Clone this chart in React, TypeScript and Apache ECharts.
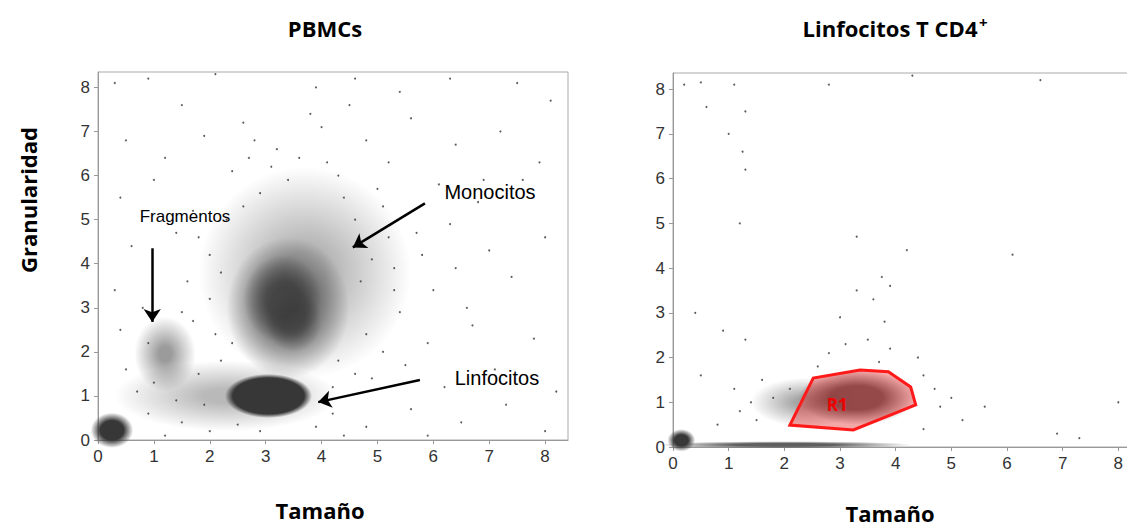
import { useEffect, useRef } from 'react';
import * as echarts from 'echarts';

// dense populations as [cx, cy, rx, ry, opacity, hardness]
const leftBlobs = [
  [2.3, 1.0, 2.0, 0.8, 0.35, 0.2],
  [3.7, 3.8, 1.9, 2.4, 0.4, 0.2],
  [3.4, 3.0, 1.1, 1.6, 0.75, 0.3],
  [3.3, 3.2, 0.7, 1.0, 0.6, 0.4],
  [3.5, 2.7, 0.5, 0.7, 0.5, 0.4],
  [1.2, 1.95, 0.55, 0.85, 0.5, 0.2],
  [0.25, 0.22, 0.38, 0.4, 1.0, 0.55],
  [3.05, 1.0, 0.78, 0.5, 1.0, 0.82],
];
const rightBlobs = [
  [2.0, 0.05, 2.3, 0.08, 0.8, 0.4],
  [2.4, 1.0, 1.0, 0.55, 0.45, 0.2],
  [3.3, 1.1, 1.05, 0.6, 0.85, 0.45],
  [0.15, 0.15, 0.25, 0.25, 1.0, 0.5],
];

const leftDots = [
  [0.3, 8.1], [0.9, 8.2], [1.5, 7.6], [2.1, 8.3], [3.9, 8.0], [4.6, 8.2], [5.4, 7.9], [6.3, 8.2], [7.5, 8.1], [8.1, 7.7],
  [0.5, 6.8], [1.2, 6.4], [1.9, 6.9], [2.6, 7.2], [3.2, 6.6], [4.0, 7.1], [4.8, 6.8], [5.6, 7.3], [6.4, 6.7], [7.2, 7.0], [7.9, 6.3],
  [0.4, 5.5], [1.0, 5.9], [1.7, 5.2], [2.4, 6.1], [2.9, 5.6], [4.3, 6.0], [5.0, 5.7], [5.5, 5.1], [6.1, 5.8], [6.8, 5.4], [7.6, 5.9],
  [0.6, 4.4], [1.4, 4.7], [2.0, 4.2], [2.3, 5.0], [4.6, 5.0], [5.2, 4.6], [5.8, 4.2], [6.3, 4.9], [7.0, 4.3], [8.0, 4.6],
  [0.3, 3.4], [0.8, 3.0], [1.6, 3.6], [2.0, 3.2], [4.7, 3.6], [5.3, 3.9], [6.0, 3.4], [6.6, 3.0], [7.4, 3.7],
  [0.4, 2.5], [0.9, 2.2], [1.7, 2.7], [2.1, 2.4], [4.8, 2.4], [5.4, 2.9], [5.9, 2.2], [6.7, 2.6], [7.8, 2.3],
  [0.5, 1.6], [1.0, 1.3], [1.8, 1.5], [4.3, 1.8], [4.9, 1.4], [5.5, 1.7], [6.2, 1.2], [7.1, 1.6], [8.2, 1.1],
  [0.9, 0.6], [1.5, 0.4], [1.9, 0.8], [4.2, 0.6], [4.8, 0.3], [5.6, 0.7], [6.5, 0.4], [7.3, 0.8], [8.0, 0.2],
  [1.2, 0.1], [2.0, 0.2], [4.4, 0.1], [5.9, 0.1],
  [3.1, 6.2], [3.6, 6.4], [4.1, 6.3], [3.4, 5.9], [2.7, 6.4], [4.4, 5.5], [5.1, 5.3], [2.6, 5.3], [4.9, 4.1], [5.3, 3.4],
  [2.2, 3.8], [2.4, 2.2], [5.1, 2.0], [4.6, 1.5], [2.2, 1.8], [1.5, 2.9], [0.7, 1.1], [1.4, 0.9], [4.2, 1.2], [3.9, 0.3],
  [2.9, 0.2], [2.5, 0.35], [6.4, 3.9], [5.7, 4.7], [6.9, 5.9], [1.8, 4.6], [2.8, 6.8], [3.8, 7.4], [4.5, 7.6], [5.2, 6.3],
];
const rightDots = [
  [0.2, 8.1], [0.5, 8.15], [1.1, 8.1], [2.8, 8.1], [4.3, 8.3], [6.6, 8.2], [1.3, 7.5], [0.6, 7.6], [1.0, 7.0], [1.25, 6.6],
  [1.3, 6.2], [1.2, 5.0], [4.2, 4.4], [6.1, 4.3], [3.3, 4.7], [3.75, 3.8], [3.9, 3.6], [3.6, 3.3], [3.3, 3.5], [3.0, 2.9],
  [3.8, 2.8], [3.5, 2.4], [3.1, 2.3], [3.9, 2.2], [2.8, 2.1], [4.4, 2.0], [0.4, 3.0], [0.9, 2.6], [1.3, 2.4], [0.5, 1.6],
  [1.1, 1.3], [1.6, 1.5], [4.7, 1.3], [5.0, 1.1], [5.2, 0.6], [4.5, 0.4], [6.9, 0.3], [7.3, 0.2], [8.0, 1.0], [5.6, 0.9],
  [1.2, 0.8], [1.5, 0.6], [1.8, 1.1], [1.4, 1.0], [0.8, 0.5], [4.5, 1.6], [4.8, 0.9], [3.7, 1.9], [2.6, 1.8], [2.1, 1.3],
];
const gateR1 = [[2.1, 0.49], [2.52, 1.54], [3.36, 1.72], [3.87, 1.68], [4.27, 1.34], [4.36, 0.94], [3.24, 0.38]];

const ticks = [0, 1, 2, 3, 4, 5, 6, 7, 8];
const font = '"Liberation Sans", Arial, sans-serif';

function blobSeries(blobs: number[][], idx: number) {
  return {
    type: 'custom', xAxisIndex: idx, yAxisIndex: idx, silent: true, data: blobs,
    renderItem: (_p: any, api: any) => {
      const c = api.coord([api.value(0), api.value(1)]);
      const s = api.size([api.value(2), api.value(3)]);
      const op = api.value(4);
      const hard = api.value(5);
      const fill = new echarts.graphic.RadialGradient(0.5, 0.5, 0.5, [
        { offset: 0, color: `rgba(55,55,55,${op})` },
        { offset: hard, color: `rgba(55,55,55,${op})` },
        { offset: 1, color: 'rgba(55,55,55,0)' },
      ]);
      return { type: 'ellipse', shape: { cx: c[0], cy: c[1], rx: s[0], ry: s[1] }, style: { fill } };
    },
  };
}

export default function App() {
  const ref = useRef<HTMLDivElement>(null);
  useEffect(() => {
    if (!ref.current) return;
    const chart = echarts.init(ref.current, null, { renderer: 'svg' });
    const axisX = (i: number, max: number) => ({
      type: 'value', gridIndex: i, min: 0, max, interval: 1, splitLine: { show: false },
      axisLine: { lineStyle: { color: '#999' } }, axisTick: { length: 4, lineStyle: { color: '#999' } },
      axisLabel: { fontSize: 17, color: '#333', fontFamily: font, showMaxLabel: false, formatter: (v: number) => ticks.includes(v) ? String(v) : '' },
    });
    const arrow = (a: number[], b: number[]) => [{ coord: a }, { coord: b }];
    const bold = 'bold 22px "Open Sans", sans-serif';
    chart.setOption({
      animation: false,
      title: [
        { text: 'PBMCs', left: 320, top: 12, textAlign: 'center', textStyle: { fontSize: 22, fontWeight: 'bold', fontFamily: '"Open Sans", sans-serif', color: '#000' } },
        { text: 'Linfocitos T CD4', left: 885, top: 12, textAlign: 'center', textStyle: { fontSize: 22, fontWeight: 'bold', fontFamily: '"Open Sans", sans-serif', color: '#000' } },
      ],
      grid: [
        { left: 98, top: 72, width: 470, height: 368, show: true, borderColor: '#aaa', borderWidth: 1 },
        { left: 673, top: 73, width: 462, height: 374, show: true, borderColor: '#aaa', borderWidth: 1 },
      ],
      xAxis: [axisX(0, 8.41), axisX(1, 8.3)],
      yAxis: [axisX(0, 8.35), axisX(1, 8.36)],
      series: [
        blobSeries(leftBlobs, 0),
        { type: 'scatter', xAxisIndex: 0, yAxisIndex: 0, data: leftDots, symbolSize: 2, itemStyle: { color: '#333' }, silent: true },
        {
          type: 'line', xAxisIndex: 0, yAxisIndex: 0, data: [], silent: true,
          markLine: {
            symbol: ['none', 'arrow'], symbolSize: 13, label: { show: false },
            lineStyle: { color: '#000', width: 2.5, type: 'solid' },
            data: [arrow([0.97, 4.35], [0.97, 2.68]), arrow([5.85, 5.37], [4.56, 4.37]), arrow([5.76, 1.36], [3.94, 0.86])],
          },
        },
        blobSeries(rightBlobs, 1),
        { type: 'scatter', xAxisIndex: 1, yAxisIndex: 1, data: rightDots, symbolSize: 2, itemStyle: { color: '#333' }, silent: true },
        {
          type: 'custom', xAxisIndex: 1, yAxisIndex: 1, silent: true, data: [0],
          renderItem: (_p: any, api: any) => ({
            type: 'group', children: [
              { type: 'polygon', shape: { points: gateR1.map((p) => api.coord(p)) }, style: { fill: 'rgba(230,60,60,0.45)', stroke: '#ff1a1a', lineWidth: 3 } },
              { type: 'text', x: api.coord([2.95, 0.95])[0], y: api.coord([2.95, 0.95])[1], style: { text: 'R1', fill: '#e00', font: 'bold 17px "Open Sans", sans-serif', align: 'center', verticalAlign: 'middle' } },
            ],
          }),
        },
      ],
      graphic: [
        { type: 'text', x: 979, y: 14, style: { text: '+', font: 'bold 15px "Open Sans", sans-serif', fill: '#000' } },
        { type: 'text', x: 28, y: 200, rotation: Math.PI / 2, style: { text: 'Granularidad', font: bold, fill: '#000', align: 'center', verticalAlign: 'middle' } },
        { type: 'text', x: 320, y: 510, style: { text: 'Tamaño', font: bold, fill: '#000', align: 'center', verticalAlign: 'middle' } },
        { type: 'text', x: 890, y: 513, style: { text: 'Tamaño', font: bold, fill: '#000', align: 'center', verticalAlign: 'middle' } },
        { type: 'text', x: 185, y: 216, style: { text: 'Fragmentos', font: `17px ${font}`, fill: '#000', align: 'center', verticalAlign: 'middle' } },
        { type: 'text', x: 490, y: 192, style: { text: 'Monocitos', font: `20px ${font}`, fill: '#000', align: 'center', verticalAlign: 'middle' } },
        { type: 'text', x: 497, y: 378, style: { text: 'Linfocitos', font: `20px ${font}`, fill: '#000', align: 'center', verticalAlign: 'middle' } },
      ],
    });
    return () => chart.dispose();
  }, []);
  return <div ref={ref} style={{ width: 1135, height: 537, margin: -8 }} />;
}
